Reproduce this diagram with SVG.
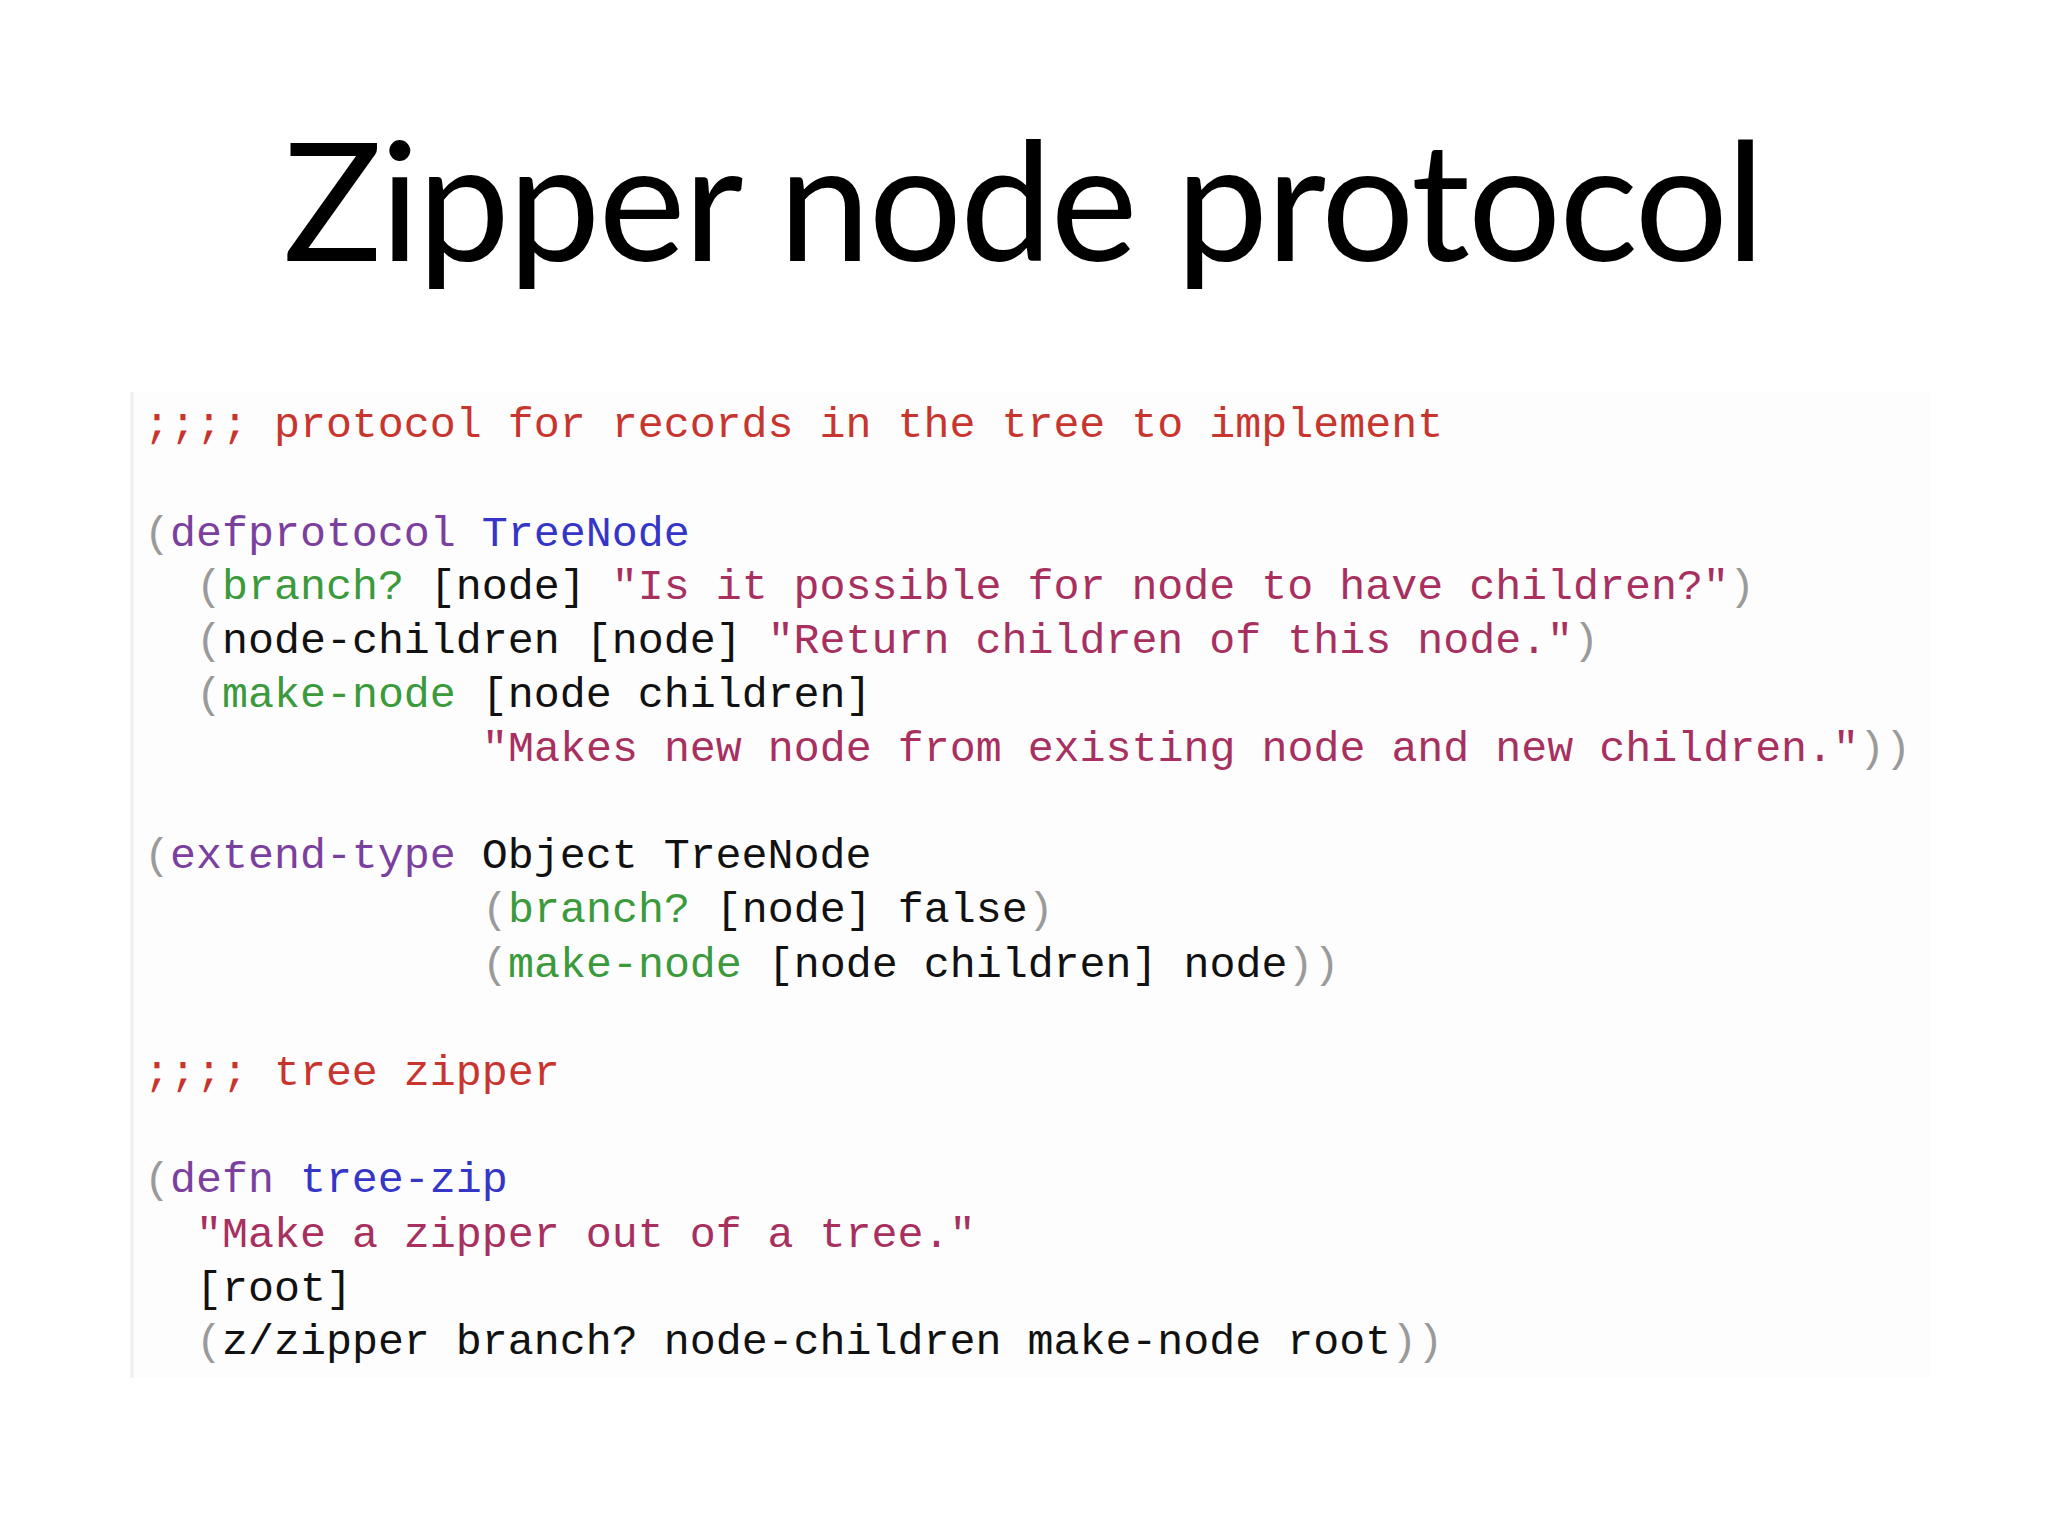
<svg xmlns="http://www.w3.org/2000/svg" width="2048" height="1536" viewBox="0 0 2048 1536">
<style>
.t{font-family:"Lato","Open Sans",sans-serif;font-size:165px;fill:#000}
.c{font-family:"Liberation Mono","DejaVu Sans Mono",monospace;font-size:43.3px;fill:#111}
.cm{fill:#c8352e}.kw{fill:#7b3f9e}.nm{fill:#3535c8}.fn{fill:#3b9a3b}.st{fill:#a8305f}.p{fill:#9a9a9a}
</style>
<rect width="2048" height="1536" fill="#fff"/>
<rect x="131" y="392" width="1800" height="986" fill="#fdfdfd"/>
<line x1="132" y1="392" x2="132" y2="1378" stroke="#eeeeee" stroke-width="3"/>
<g id="title"><text class="t" x="1024" y="261" text-anchor="middle" textLength="1482">Zipper node protocol</text></g>
<g id="code" class="c" xml:space="preserve">
<text x="144" y="437"><tspan class="cm">;;;; protocol for records in the tree to implement</tspan></text>
<text x="144" y="546"><tspan class="p">(</tspan><tspan class="kw">defprotocol</tspan> <tspan class="nm">TreeNode</tspan></text>
<text x="196" y="599"><tspan class="p">(</tspan><tspan class="fn">branch?</tspan> [node] <tspan class="st">"Is it possible for node to have children?"</tspan><tspan class="p">)</tspan></text>
<text x="196" y="653"><tspan class="p">(</tspan>node-children [node] <tspan class="st">"Return children of this node."</tspan><tspan class="p">)</tspan></text>
<text x="196" y="707"><tspan class="p">(</tspan><tspan class="fn">make-node</tspan> [node children]</text>
<text x="482" y="761"><tspan class="st">"Makes new node from existing node and new children."</tspan><tspan class="p">))</tspan></text>
<text x="144" y="868"><tspan class="p">(</tspan><tspan class="kw">extend-type</tspan> Object TreeNode</text>
<text x="482" y="922"><tspan class="p">(</tspan><tspan class="fn">branch?</tspan> [node] false<tspan class="p">)</tspan></text>
<text x="482" y="977"><tspan class="p">(</tspan><tspan class="fn">make-node</tspan> [node children] node<tspan class="p">))</tspan></text>
<text x="144" y="1085"><tspan class="cm">;;;; tree zipper</tspan></text>
<text x="144" y="1192"><tspan class="p">(</tspan><tspan class="kw">defn</tspan> <tspan class="nm">tree-zip</tspan></text>
<text x="196" y="1247"><tspan class="st">"Make a zipper out of a tree."</tspan></text>
<text x="196" y="1301">[root]</text>
<text x="196" y="1354"><tspan class="p">(</tspan>z/zipper branch? node-children make-node root<tspan class="p">))</tspan></text>
</g>
</svg>
